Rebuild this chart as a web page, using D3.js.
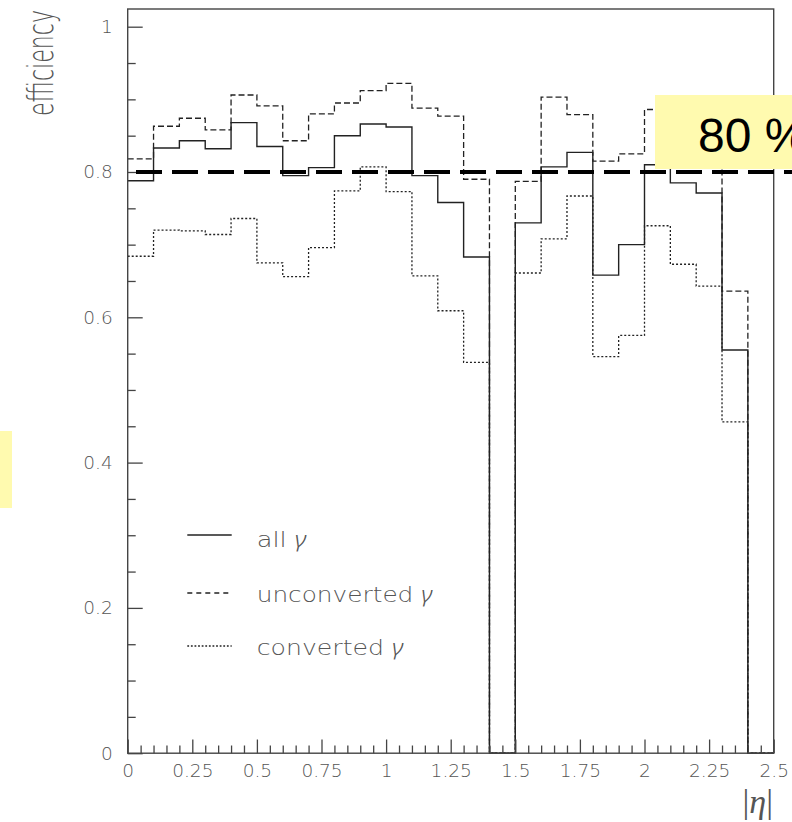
<!DOCTYPE html>
<html>
<head>
<meta charset="utf-8">
<script src="https://cdn.jsdelivr.net/npm/d3@7"></script>
<style>
  html, body { margin: 0; padding: 0; background: #fff; }
  svg { display: block; }
</style>
</head>
<body>
<svg id="chart" width="792" height="822"></svg>
<script>
// Lower edges of the |eta| bins (width 0.1)
const etaBins = [0.0, 0.1, 0.2, 0.3, 0.4, 0.5, 0.6, 0.7, 0.8, 0.9,
                 1.0, 1.1, 1.2, 1.3, 1.4, 1.5, 1.6, 1.7, 1.8, 1.9,
                 2.0, 2.1, 2.2, 2.3, 2.4];
const binWidth = 0.1;

// Photon identification efficiency per bin
const allGamma = [0.788, 0.833, 0.843, 0.832, 0.868, 0.835, 0.795, 0.806, 0.850, 0.866,
                  0.862, 0.795, 0.758, 0.683, 0.000, 0.730, 0.807, 0.827, 0.658, 0.700,
                  0.810, 0.785, 0.771, 0.555, 0.000];
const unconvertedGamma = [0.818, 0.863, 0.874, 0.858, 0.906, 0.891, 0.843, 0.880, 0.895, 0.912,
                          0.922, 0.888, 0.877, 0.790, 0.000, 0.787, 0.903, 0.879, 0.815, 0.825,
                          0.886, 0.870, 0.850, 0.636, 0.000];
const convertedGamma = [0.684, 0.720, 0.719, 0.714, 0.736, 0.675, 0.656, 0.696, 0.774, 0.807,
                        0.773, 0.657, 0.609, 0.538, 0.000, 0.661, 0.708, 0.767, 0.546, 0.575,
                        0.726, 0.673, 0.643, 0.456, 0.000];

const seriesNames = ["all", "unconverted", "converted"];
const legendLabels = ["all ", "unconverted ", "converted "];

// Axis ticks and labels
const xMajorTicks = [0, 0.25, 0.5, 0.75, 1, 1.25, 1.5, 1.75, 2, 2.25, 2.5];
const xTickLabels = ["0", "0.25", "0.5", "0.75", "1", "1.25", "1.5", "1.75", "2", "2.25", "2.5"];
const yMajorTicks = [0, 0.2, 0.4, 0.6, 0.8, 1];
const yTickLabels = ["0", "0.2", "0.4", "0.6", "0.8", "1"];
const minorStep = 0.05;

const targetEfficiency = 0.8;
const targetLabel = "80 %";

const svg = d3.select("#chart");
const x = d3.scaleLinear().domain([0, 2.5]).range([127.7, 773.7]);
const y = d3.scaleLinear().domain([0, 1]).range([753.2, 26.7]);

const axisColor = "#444";
const textColor = "#555";
const tickFont = "'DejaVu Sans', sans-serif";
const greekFont = "'Noto Sans', 'DejaVu Sans', sans-serif";

// Minor tick positions
const xMinor = d3.range(0, 2.5001, minorStep).map(v => +v.toFixed(2))
  .filter(v => !xMajorTicks.some(m => Math.abs(m - v) < 1e-6));
const yMinor = d3.range(0, 1.0001, minorStep).map(v => +v.toFixed(2))
  .filter(v => !yMajorTicks.some(m => Math.abs(m - v) < 1e-6));

// Step outline of each histogram
const stepLine = d3.line()
  .x(d => x(d.x))
  .y(d => y(d.v))
  .curve(d3.curveStepAfter);

function histPoints(values) {
  const pts = etaBins.map((e, i) => ({x: e, v: values[i]}));
  pts.push({x: etaBins[etaBins.length - 1] + binWidth, v: values[values.length - 1]});
  return pts;
}

const styles = {
  all: {dash: null, width: 1.4, color: "#222"},
  unconverted: {dash: "6,3", width: 1.3, color: "#222"},
  converted: {dash: "2,2", width: 1.3, color: "#222"}
};
const seriesData = {all: allGamma, unconverted: unconvertedGamma, converted: convertedGamma};

const histG = svg.append("g");
seriesNames.forEach(name => {
  histG.append("path")
    .attr("d", stepLine(histPoints(seriesData[name])))
    .attr("fill", "none")
    .attr("stroke", styles[name].color)
    .attr("stroke-width", styles[name].width)
    .attr("stroke-dasharray", styles[name].dash);
});

// Frame
svg.append("rect")
  .attr("x", x(0)).attr("y", 9)
  .attr("width", x(2.5) - x(0)).attr("height", y(0) - 9)
  .attr("fill", "none").attr("stroke", axisColor).attr("stroke-width", 1.4);

// Y axis: major ticks with labels, minor ticks, all pointing inwards
const yAxisMajor = d3.axisLeft(y)
  .tickValues(yMajorTicks)
  .tickFormat((d, i) => yTickLabels[i])
  .tickSizeInner(-15).tickSizeOuter(0).tickPadding(15);
const yG = svg.append("g").attr("transform", `translate(${x(0)},0)`).call(yAxisMajor);
yG.select(".domain").remove();
yG.selectAll("line").attr("stroke", axisColor).attr("stroke-width", 1.3);
yG.selectAll("text").attr("fill", textColor).attr("font-family", tickFont)
  .attr("font-size", 18.5).attr("font-weight", 200);

const yAxisMinor = d3.axisLeft(y).tickValues(yMinor).tickFormat("")
  .tickSizeInner(-8).tickSizeOuter(0);
const yGm = svg.append("g").attr("transform", `translate(${x(0)},0)`).call(yAxisMinor);
yGm.select(".domain").remove();
yGm.selectAll("line").attr("stroke", axisColor).attr("stroke-width", 1.3);

// X axis
const xAxisMajor = d3.axisBottom(x)
  .tickValues(xMajorTicks)
  .tickFormat((d, i) => xTickLabels[i])
  .tickSizeInner(-13.7).tickSizeOuter(0).tickPadding(10.8);
const xG = svg.append("g").attr("transform", `translate(0,${y(0)})`).call(xAxisMajor);
xG.select(".domain").remove();
xG.selectAll("line").attr("stroke", axisColor).attr("stroke-width", 1.3);
xG.selectAll("text").attr("fill", textColor).attr("font-family", tickFont)
  .attr("font-size", 18.5).attr("font-weight", 200);

const xAxisMinor = d3.axisBottom(x).tickValues(xMinor).tickFormat("")
  .tickSizeInner(-7.7).tickSizeOuter(0);
const xGm = svg.append("g").attr("transform", `translate(0,${y(0)})`).call(xAxisMinor);
xGm.select(".domain").remove();
xGm.selectAll("line").attr("stroke", axisColor).attr("stroke-width", 1.3);

// Axis titles
svg.append("text")
  .attr("transform", "translate(53,116) rotate(-90)")
  .attr("font-family", tickFont).attr("font-size", 36).attr("font-weight", 200)
  .attr("fill", textColor)
  .attr("textLength", 106).attr("lengthAdjust", "spacingAndGlyphs")
  .text("efficiency");

const xTitle = svg.append("text")
  .attr("x", 773).attr("y", 812.5)
  .attr("text-anchor", "end")
  .attr("font-family", "'Liberation Serif', 'DejaVu Serif', serif")
  .attr("font-size", 34)
  .attr("fill", "#555");
xTitle.append("tspan").text("|");
xTitle.append("tspan").attr("font-style", "italic").text("η");
xTitle.append("tspan").text("|");

// Legend
const legendRows = [
  {name: "all", yLine: 535, yText: 547, len: 50},
  {name: "unconverted", yLine: 593, yText: 602, len: 176},
  {name: "converted", yLine: 646, yText: 655, len: 147}
];
const legendDash = {all: null, unconverted: "5,4", converted: "1.8,1.8"};
legendRows.forEach((r, i) => {
  svg.append("line")
    .attr("x1", 187.3).attr("x2", 231.7)
    .attr("y1", r.yLine).attr("y2", r.yLine)
    .attr("stroke", "#222").attr("stroke-width", 1.3)
    .attr("stroke-dasharray", legendDash[r.name]);
  const t = svg.append("text")
    .attr("x", 256.7).attr("y", r.yText)
    .attr("font-family", tickFont).attr("font-size", 22).attr("font-weight", 200)
    .attr("fill", textColor)
    .attr("textLength", r.len).attr("lengthAdjust", "spacingAndGlyphs");
  t.append("tspan").text(legendLabels[i]);
  t.append("tspan")
    .attr("font-family", greekFont).attr("font-style", "italic").attr("font-weight", 300)
    .text("γ");
});

// 80 % reference line and its label box
const yTarget = y(targetEfficiency);
svg.append("line")
  .attr("x1", 136).attr("x2", 792)
  .attr("y1", yTarget).attr("y2", yTarget)
  .attr("stroke", "#000").attr("stroke-width", 4)
  .attr("stroke-dasharray", "26,10");

svg.append("rect")
  .attr("x", 655).attr("y", 95)
  .attr("width", 137).attr("height", yTarget - 3 - 95)
  .attr("fill", "#fffaaf");
svg.append("text")
  .attr("x", 698).attr("y", 151.7)
  .attr("font-family", "'Liberation Sans', Arial, sans-serif")
  .attr("font-size", 48)
  .attr("fill", "#000")
  .text(targetLabel);

// Side marker
svg.append("rect")
  .attr("x", 0).attr("y", 431)
  .attr("width", 12).attr("height", 77)
  .attr("fill", "#fffaaf");
</script>
</body>
</html>
